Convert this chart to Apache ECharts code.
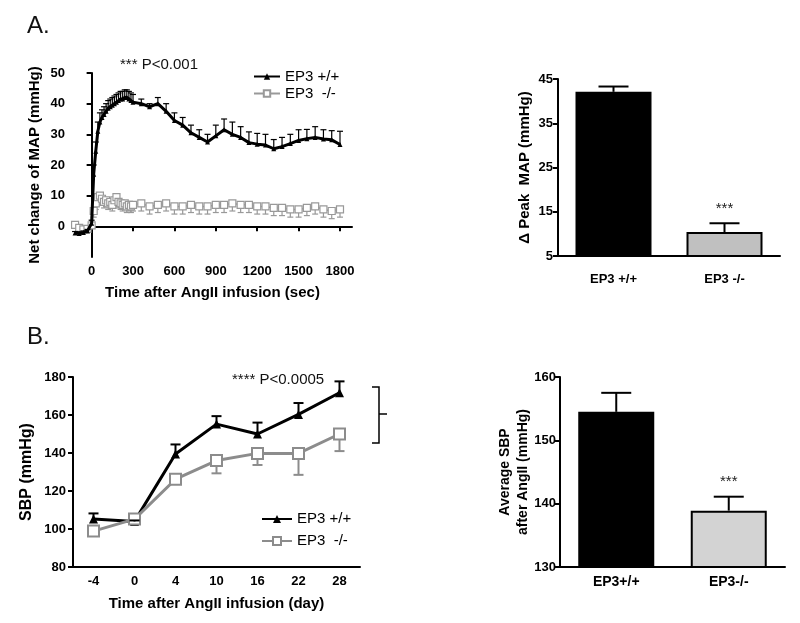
<!DOCTYPE html>
<html><head><meta charset="utf-8">
<script src="https://cdn.jsdelivr.net/npm/echarts@6/dist/echarts.min.js"></script>
<style>html,body{margin:0;padding:0;background:#fff}#c{width:800px;height:623px}</style>
</head><body><div id="c"></div>
<script>
// ---------- Panel A (left): net change of MAP over time ----------
const timeA = [-120,-90,-60,-30,0,15,30,45,60,75,90,105,120,135,150,165,180,195,210,225,240,255,270,285,300,360,420,480,540,600,660,720,780,840,900,960,1020,1080,1140,1200,1260,1320,1380,1440,1500,1560,1620,1680,1740,1800];
const wtA = [-2.2,-2.3,-2.0,-1.5,1.0,17,24.5,31,34,35.5,36.5,37.5,38.5,39,39.5,40,40.5,41,41.5,41.5,42,42,41.5,41,40.5,40,39,40,37.5,34.5,33,30.5,29,27.5,29.5,31.5,30,29,27.3,26.8,26.5,25.3,26,27,28,28.6,29,28.5,28.2,26.7];
const wtErrA = [0.5,0.5,0.5,0.5,1,3,3,3,3,2.5,2.5,2.5,2.5,2.5,2.5,2.5,2.5,2.5,2.5,2.5,2.5,2.5,2.5,2.5,2.5,1.5,1,2,2.5,2.5,2.5,2.5,2.5,2.5,3.5,3.5,4,3.5,3.5,3.5,3.5,3,3,3,3.5,3,3.5,3,3,4.3];
const koA = [0.5,-0.5,-1,-0.8,0.3,5,7.5,9.5,10,9,8,8.5,7.5,8,7,8.5,9.5,8,7.5,7,7.5,6.5,7,6.5,7,7.5,6.5,7,7.5,6.5,6.5,7,6.5,6.5,7,7,7.5,7,7,6.5,6.5,6,6,5.5,5.5,6,6.5,5.5,5,5.5];
const koErrA = [1,1,1,1,1,2,2,2,2,2,2,2,2,2,2,2,2,2,2,2,2,2,2,2,2,2.5,2.5,2.5,2.5,2.5,2.5,2.5,2.5,2.5,2.5,2.5,2.5,2.5,2.5,2.5,2.5,2.5,2.5,2.5,2.5,2.5,2.5,2.5,2.5,2.5];
const timeTicksA = [0,300,600,900,1200,1500,1800];
const mapTicksA = [0,10,20,30,40,50];

// ---------- Panel A (right): peak MAP ----------
const peakCats = ['EP3 +/+','EP3 -/-'];
const peakVals = [42.1,10.4];
const peakErr = [1.2,2.0];
const peakStars = ['','***'];

// ---------- Panel B (left): SBP over days ----------
const dayCats = ['-4','0','4','10','16','22','28'];
const wtB = [105.2,104,139.5,155.2,150,160.3,171.7];
const wtErrB = [3,0.5,5,4.2,6,6,6];
const koB = [98.9,105.2,126.2,136,139.8,139.8,150];
const koErrB = [1,1,1,6.7,6.1,11.3,9];

// ---------- Panel B (right): average SBP ----------
const avgCats = ['EP3+/+','EP3-/-'];
const avgVals = [154.5,138.9];
const avgErr = [3.0,2.2];
const avgStars = ['','***'];

const FONT = '"Liberation Sans", Arial, sans-serif';
const nameMap = {wtA:'EP3 +/+', koA:'EP3  -/-', wtB:'EP3 +/+', koB:'EP3  -/-'};
const GREY = '#8c8c8c';

function errSeries(xi, data, dir, color, capHalf, lw, stars, z) {
  return {
    type:'custom', xAxisIndex:xi, yAxisIndex:xi, data:data, z:z, silent:true,
    encode:{x:0,y:1},
    renderItem:function(params, api){
      const x = api.value(0), y = api.value(1), e = api.value(2);
      const p0 = api.coord([x,y]);
      const p1 = api.coord([x,y+dir*e]);
      const st = {stroke:color, lineWidth:lw};
      const ch = [
        {type:'line', shape:{x1:p0[0],y1:p0[1],x2:p1[0],y2:p1[1]}, style:st},
        {type:'line', shape:{x1:p1[0]-capHalf,y1:p1[1],x2:p1[0]+capHalf,y2:p1[1]}, style:st}
      ];
      if (stars && stars[params.dataIndex]) {
        ch.push({type:'text', x:p1[0], y:p1[1]-7, style:{text:stars[params.dataIndex], fill:'#222', font:'15px '+FONT, align:'center', verticalAlign:'bottom'}});
      }
      return {type:'group', children:ch};
    }
  };
}

const axLine = {lineStyle:{color:'#000', width:2}};
const axTick = {length:5, lineStyle:{color:'#000', width:2}};
const lbl = (m)=>({color:'#000', fontWeight:'bold', fontSize:13, fontFamily:FONT, margin:m});
const nameStyle = {color:'#000', fontWeight:'bold', fontSize:15, fontFamily:FONT};

const chart = echarts.init(document.getElementById('c'), null, {renderer:'canvas'});
chart.setOption({
  animation:false,
  backgroundColor:'#fff',
  grid:[
    {left:73, top:73, width:279, height:184},
    {left:558, top:79, width:222, height:177},
    {left:73, top:377, width:287, height:190},
    {left:560, top:377, width:225, height:190}
  ],
  xAxis:[
    {gridIndex:0, type:'value', min:-135, max:1887,
     axisLine:axLine, axisTick:Object.assign({customValues:timeTicksA}, axTick),
     axisLabel:Object.assign({customValues:timeTicksA, formatter:v=>String(v)}, lbl(8)), splitLine:{show:false},
     name:'Time after AngII infusion (sec)', nameLocation:'middle', nameGap:28, nameTextStyle:nameStyle},
    {gridIndex:1, type:'category', data:peakCats, boundaryGap:true,
     axisLine:axLine, axisTick:Object.assign({alignWithLabel:true}, axTick), axisLabel:lbl(17)},
    {gridIndex:2, type:'category', data:dayCats, boundaryGap:true,
     axisLine:axLine, axisTick:Object.assign({alignWithLabel:true}, axTick), axisLabel:lbl(8),
     name:'Time after AngII infusion (day)', nameLocation:'middle', nameGap:29, nameTextStyle:nameStyle},
    {gridIndex:3, type:'category', data:avgCats, boundaryGap:true,
     axisLine:axLine, axisTick:{show:false}, axisLabel:Object.assign(lbl(8), {fontSize:14})}
  ],
  yAxis:[
    {gridIndex:0, type:'value', min:-10, max:50,
     axisLine:Object.assign({show:true}, axLine), axisTick:Object.assign({show:true, customValues:mapTicksA}, axTick),
     axisLabel:Object.assign({customValues:mapTicksA}, lbl(8)), splitLine:{show:false},
     name:'Net change of MAP (mmHg)', nameLocation:'middle', nameGap:31, nameTextStyle:nameStyle},
    {gridIndex:1, type:'value', min:5, max:45, interval:10,
     axisLine:Object.assign({show:true}, axLine), axisTick:Object.assign({show:true}, axTick),
     axisLabel:lbl(5), splitLine:{show:false},
     name:'\u0394 Peak  MAP (mmHg)', nameLocation:'middle', nameGap:26, nameMoveOverlap:false,
     nameTextStyle:Object.assign({}, nameStyle, {fontSize:15})},
    {gridIndex:2, type:'value', min:80, max:180, interval:20,
     axisLine:Object.assign({show:true}, axLine), axisTick:Object.assign({show:true}, axTick),
     axisLabel:lbl(7), splitLine:{show:false},
     name:'SBP (mmHg)', nameLocation:'middle', nameGap:38, nameTextStyle:Object.assign({}, nameStyle, {fontSize:16})},
    {gridIndex:3, type:'value', min:130, max:160, interval:10,
     axisLine:Object.assign({show:true}, axLine), axisTick:Object.assign({show:true}, axTick),
     axisLabel:lbl(4), splitLine:{show:false},
     name:'Average SBP\nafter AngII (mmHg)', nameLocation:'middle', nameGap:28, nameMoveOverlap:false,
     nameTextStyle:Object.assign({}, nameStyle, {fontSize:14, lineHeight:18})}
  ],
  legend:[
    {left:248, top:64, orient:'vertical', itemGap:2, itemWidth:26, itemHeight:8, data:['wtA','koA'],
     formatter:n=>nameMap[n], textStyle:{color:'#000', fontSize:15, fontFamily:FONT, lineHeight:15}, selectedMode:false},
    {left:256, top:506, orient:'vertical', itemGap:6, itemWidth:30, itemHeight:10, data:['wtB','koB'],
     formatter:n=>nameMap[n], textStyle:{color:'#000', fontSize:15, fontFamily:FONT, lineHeight:16}, selectedMode:false}
  ],
  graphic:[
    {type:'text', left:27, top:14, style:{text:'A.', font:'24px '+FONT, fill:'#111'}},
    {type:'text', left:27, top:325, style:{text:'B.', font:'24px '+FONT, fill:'#111'}},
    {type:'text', left:120, top:57, style:{text:'*** P<0.001', font:'15px '+FONT, fill:'#111'}},
    {type:'text', left:232, top:372, style:{text:'**** P<0.0005', font:'15px '+FONT, fill:'#111'}},
    {type:'polyline', shape:{points:[[372,387],[379,387],[379,443],[372,443]]}, style:{stroke:'#000', lineWidth:1.5, fill:null}},
    {type:'line', shape:{x1:379,y1:414,x2:387,y2:414}, style:{stroke:'#000', lineWidth:1.5}}
  ],
  series:[
    errSeries(0, timeA.map((t,i)=>[t,koA[i],koErrA[i]]), -1, '#999', 3, 1.2, null, 1),
    {name:'koA', type:'line', xAxisIndex:0, yAxisIndex:0, data:timeA.map((t,i)=>[t,koA[i]]),
     symbol:'rect', symbolSize:7, z:2,
     lineStyle:{color:'#999', width:1.5}, itemStyle:{color:'#fff', borderColor:'#999', borderWidth:1.2}},
    errSeries(0, timeA.map((t,i)=>[t,wtA[i],wtErrA[i]]), 1, '#000', 3, 1.2, null, 3),
    {name:'wtA', type:'line', xAxisIndex:0, yAxisIndex:0, data:timeA.map((t,i)=>[t,wtA[i]]),
     symbol:'triangle', symbolSize:5, z:4,
     lineStyle:{color:'#000', width:3}, itemStyle:{color:'#000'}},

    {type:'bar', xAxisIndex:1, yAxisIndex:1, barWidth:76,
     data:peakVals.map((v,i)=>({value:v, itemStyle:{color: i ? '#c0c0c0' : '#000'}})),
     itemStyle:{borderColor:'#000', borderWidth:2}},
    errSeries(1, peakVals.map((v,i)=>[i,v,peakErr[i]]), 1, '#000', 15, 2, peakStars, 5),

    errSeries(2, dayCats.map((d,i)=>[i,koB[i],koErrB[i]]), -1, GREY, 5, 2, null, 1),
    {name:'koB', type:'line', xAxisIndex:2, yAxisIndex:2, data:koB,
     symbol:'rect', symbolSize:11, z:2,
     lineStyle:{color:GREY, width:3}, itemStyle:{color:'#fff', borderColor:GREY, borderWidth:2}},
    errSeries(2, dayCats.map((d,i)=>[i,wtB[i],wtErrB[i]]), 1, '#000', 5, 2, null, 3),
    {name:'wtB', type:'line', xAxisIndex:2, yAxisIndex:2, data:wtB,
     symbol:'triangle', symbolSize:9, z:1,
     lineStyle:{color:'#000', width:3}, itemStyle:{color:'#000'}},

    {type:'bar', xAxisIndex:3, yAxisIndex:3, barWidth:76,
     data:avgVals.map((v,i)=>({value:v, itemStyle:{color: i ? '#d3d3d3' : '#000'}})),
     itemStyle:{borderColor:'#000', borderWidth:2}},
    errSeries(3, avgVals.map((v,i)=>[i,v,avgErr[i]]), 1, '#000', 15, 2, avgStars, 5)
  ]
});
</script>
</body></html>
